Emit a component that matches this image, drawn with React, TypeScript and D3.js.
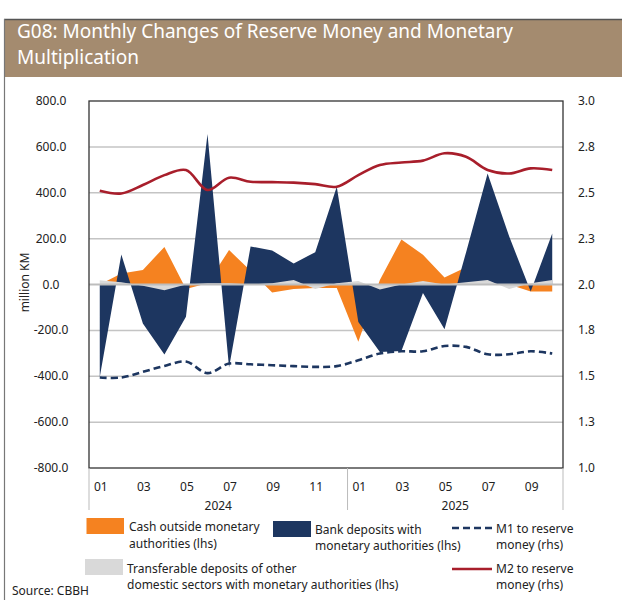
import React from "react";
import * as d3 from "d3";

const months = ["01","02","03","04","05","06","07","08","09","10","11","12","01","02","03","04","05","06","07","08","09","10"];
const years = ["2024", "2025"];
const cashOutside = [0, 48, 63, 164, -20, 5, 150, 60, -35, -20, -15, -15, -250, 20, 196, 130, 31, 75, 10, 0, -30, -30];
const bankDeposits = [-403, 131, -170, -305, -141, 656, -362, 166, 148, 92, 141, 426, -163, -294, -290, -37, -195, 140, 484, 210, -30, 222];
const transferable = [19, 10, -5, -25, 0, 5, 5, 0, 5, 20, -20, 5, 15, -22, 0, 15, 0, 10, 20, -20, 5, 20];
const m1Ratio = [1.493, 1.493, 1.524, 1.556, 1.58, 1.517, 1.569, 1.565, 1.56, 1.555, 1.551, 1.555, 1.587, 1.624, 1.636, 1.636, 1.665, 1.66, 1.62, 1.62, 1.636, 1.624];
const m2Ratio = [2.511, 2.496, 2.542, 2.596, 2.624, 2.515, 2.582, 2.56, 2.558, 2.555, 2.547, 2.533, 2.596, 2.651, 2.665, 2.675, 2.715, 2.696, 2.624, 2.605, 2.633, 2.624];
const leftTicks = [800, 600, 400, 200, 0, -200, -400, -600, -800];
const rightTicks = [3.0, 2.75, 2.5, 2.25, 2.0, 1.75, 1.5, 1.25, 1.0];
const rightTickLabels = ["3.0", "2.8", "2.5", "2.3", "2.0", "1.8", "1.5", "1.3", "1.0"];

const ORANGE = "#F58220";
const NAVY = "#1D3660";
const GRAY = "#D9D9D9";
const RED = "#A81E2B";
const FONT = "'Noto Sans', 'Open Sans', sans-serif";

export default function App() {
  const W = 622, H = 600;
  const left = 89, right = 563, top = 101, bottom = 468;
  const idx = months.map((_, i) => i);
  const x = d3.scaleBand<number>().domain(idx).range([left, right]).padding(0);
  const cx = (i: number) => (x(i) as number) + x.bandwidth() / 2;
  const yL = d3.scaleLinear().domain([-800, 800]).range([bottom, top]);
  const yR = d3.scaleLinear().domain([1, 3]).range([bottom, top]);

  const area = (vals: number[]) =>
    d3.area<number>().x((_, i) => cx(i)).y0(yL(0)).y1((d) => yL(d))(vals) || "";
  const line = (vals: number[]) =>
    d3.line<number>().x((_, i) => cx(i)).y((d) => yR(d)).curve(d3.curveCatmullRom.alpha(0.5))(vals) || "";

  const textStyle: React.CSSProperties = { fontFamily: FONT, fontSize: 12, fill: "#222" };
  const yearSplit = x(12) as number;

  return (
    <svg width={W} height={H} style={{ position: "absolute", left: 0, top: 0 }}>
      <rect x={0} y={0} width={W} height={H} fill="#fff" />
      {/* banner */}
      <rect x={4} y={19} width={W - 4} height={58} fill="#A48B6F" />
      <line x1={4} x2={W} y1={19.5} y2={19.5} stroke="#555" strokeWidth={1.5} />
      <line x1={4.5} x2={4.5} y1={19} y2={H} stroke="#777" strokeWidth={1.2} />
      <text x={17} y={38} style={{ fontFamily: FONT, fontSize: 19, fill: "#fff" }}>
        G08: Monthly Changes of Reserve Money and Monetary
      </text>
      <text x={17} y={64} style={{ fontFamily: FONT, fontSize: 19, fill: "#fff" }}>
        Multiplication
      </text>

      {/* gridlines */}
      {leftTicks.filter((t) => t !== 0 && t !== 800 && t !== -800).map((t) => (
        <line key={t} x1={left} x2={right} y1={yL(t)} y2={yL(t)} stroke="#C4C4C4" strokeWidth={1.5} />
      ))}

      {/* areas */}
      <path d={area(cashOutside)} fill={ORANGE} />
      <path d={area(bankDeposits)} fill={NAVY} />
      <path d={area(transferable)} fill={GRAY} />
      <line x1={left} x2={right} y1={yL(0)} y2={yL(0)} stroke="#BDBDBD" strokeWidth={2} />

      {/* lines */}
      <path d={line(m2Ratio)} fill="none" stroke={RED} strokeWidth={2.6} />
      <path d={line(m1Ratio)} fill="none" stroke={NAVY} strokeWidth={2.6} strokeDasharray="7,4" />

      {/* frame */}
      <rect x={left} y={top} width={right - left} height={bottom - top} fill="none" stroke="#333" strokeWidth={1.3} />

      {/* left axis */}
      {leftTicks.map((t) => (
        <text key={t} x={51} y={yL(t) + 4} textAnchor="middle" style={textStyle}>
          {t.toFixed(1)}
        </text>
      ))}
      <text transform={`translate(29,${yL(0) - 2}) rotate(-90)`} textAnchor="middle" style={textStyle}>
        million KM
      </text>
      {/* right axis */}
      {rightTicks.map((t, i) => (
        <text key={t} x={578} y={yR(t) + 4} style={textStyle}>
          {rightTickLabels[i]}
        </text>
      ))}

      {/* x axis */}
      {[left, yearSplit, right].map((v, i) => (
        <line key={i} x1={v} x2={v} y1={bottom} y2={510} stroke="#BBB" strokeWidth={1} />
      ))}
      {months.map((m, i) =>
        i % 2 === 0 ? (
          <text key={i} x={cx(i) + 1} y={491} textAnchor="middle" style={textStyle}>
            {m}
          </text>
        ) : null
      )}
      <text x={(left + yearSplit) / 2} y={510} textAnchor="middle" style={textStyle}>{years[0]}</text>
      <text x={(yearSplit + right) / 2} y={510} textAnchor="middle" style={textStyle}>{years[1]}</text>

      {/* legend */}
      <rect x={86.5} y={518} width={37.5} height={16} fill={ORANGE} />
      <text x={129} y={531} style={textStyle}>Cash outside monetary</text>
      <text x={129} y={548} style={textStyle}>authorities (lhs)</text>

      <rect x={273} y={521} width={38} height={16} fill={NAVY} />
      <text x={315} y={534} style={textStyle}>Bank deposits with</text>
      <text x={315} y={550} style={textStyle}>monetary authorities (lhs)</text>

      <line x1={452} x2={492} y1={528} y2={528} stroke={NAVY} strokeWidth={2.6} strokeDasharray="7,4" />
      <text x={496} y={533} style={textStyle}>M1 to reserve</text>
      <text x={496} y={549} style={textStyle}>money (rhs)</text>

      <rect x={85} y={559} width={38} height={16} fill={GRAY} />
      <text x={127} y={573} style={textStyle}>Transferable deposits of other</text>
      <text x={127} y={589} style={textStyle}>domestic sectors with monetary authorities (lhs)</text>

      <line x1={452} x2={492} y1={569} y2={569} stroke={RED} strokeWidth={2.6} />
      <text x={496} y={573} style={textStyle}>M2 to reserve</text>
      <text x={496} y={589} style={textStyle}>money (rhs)</text>

      <text x={12} y={595} style={textStyle}>Source: CBBH</text>
    </svg>
  );
}
